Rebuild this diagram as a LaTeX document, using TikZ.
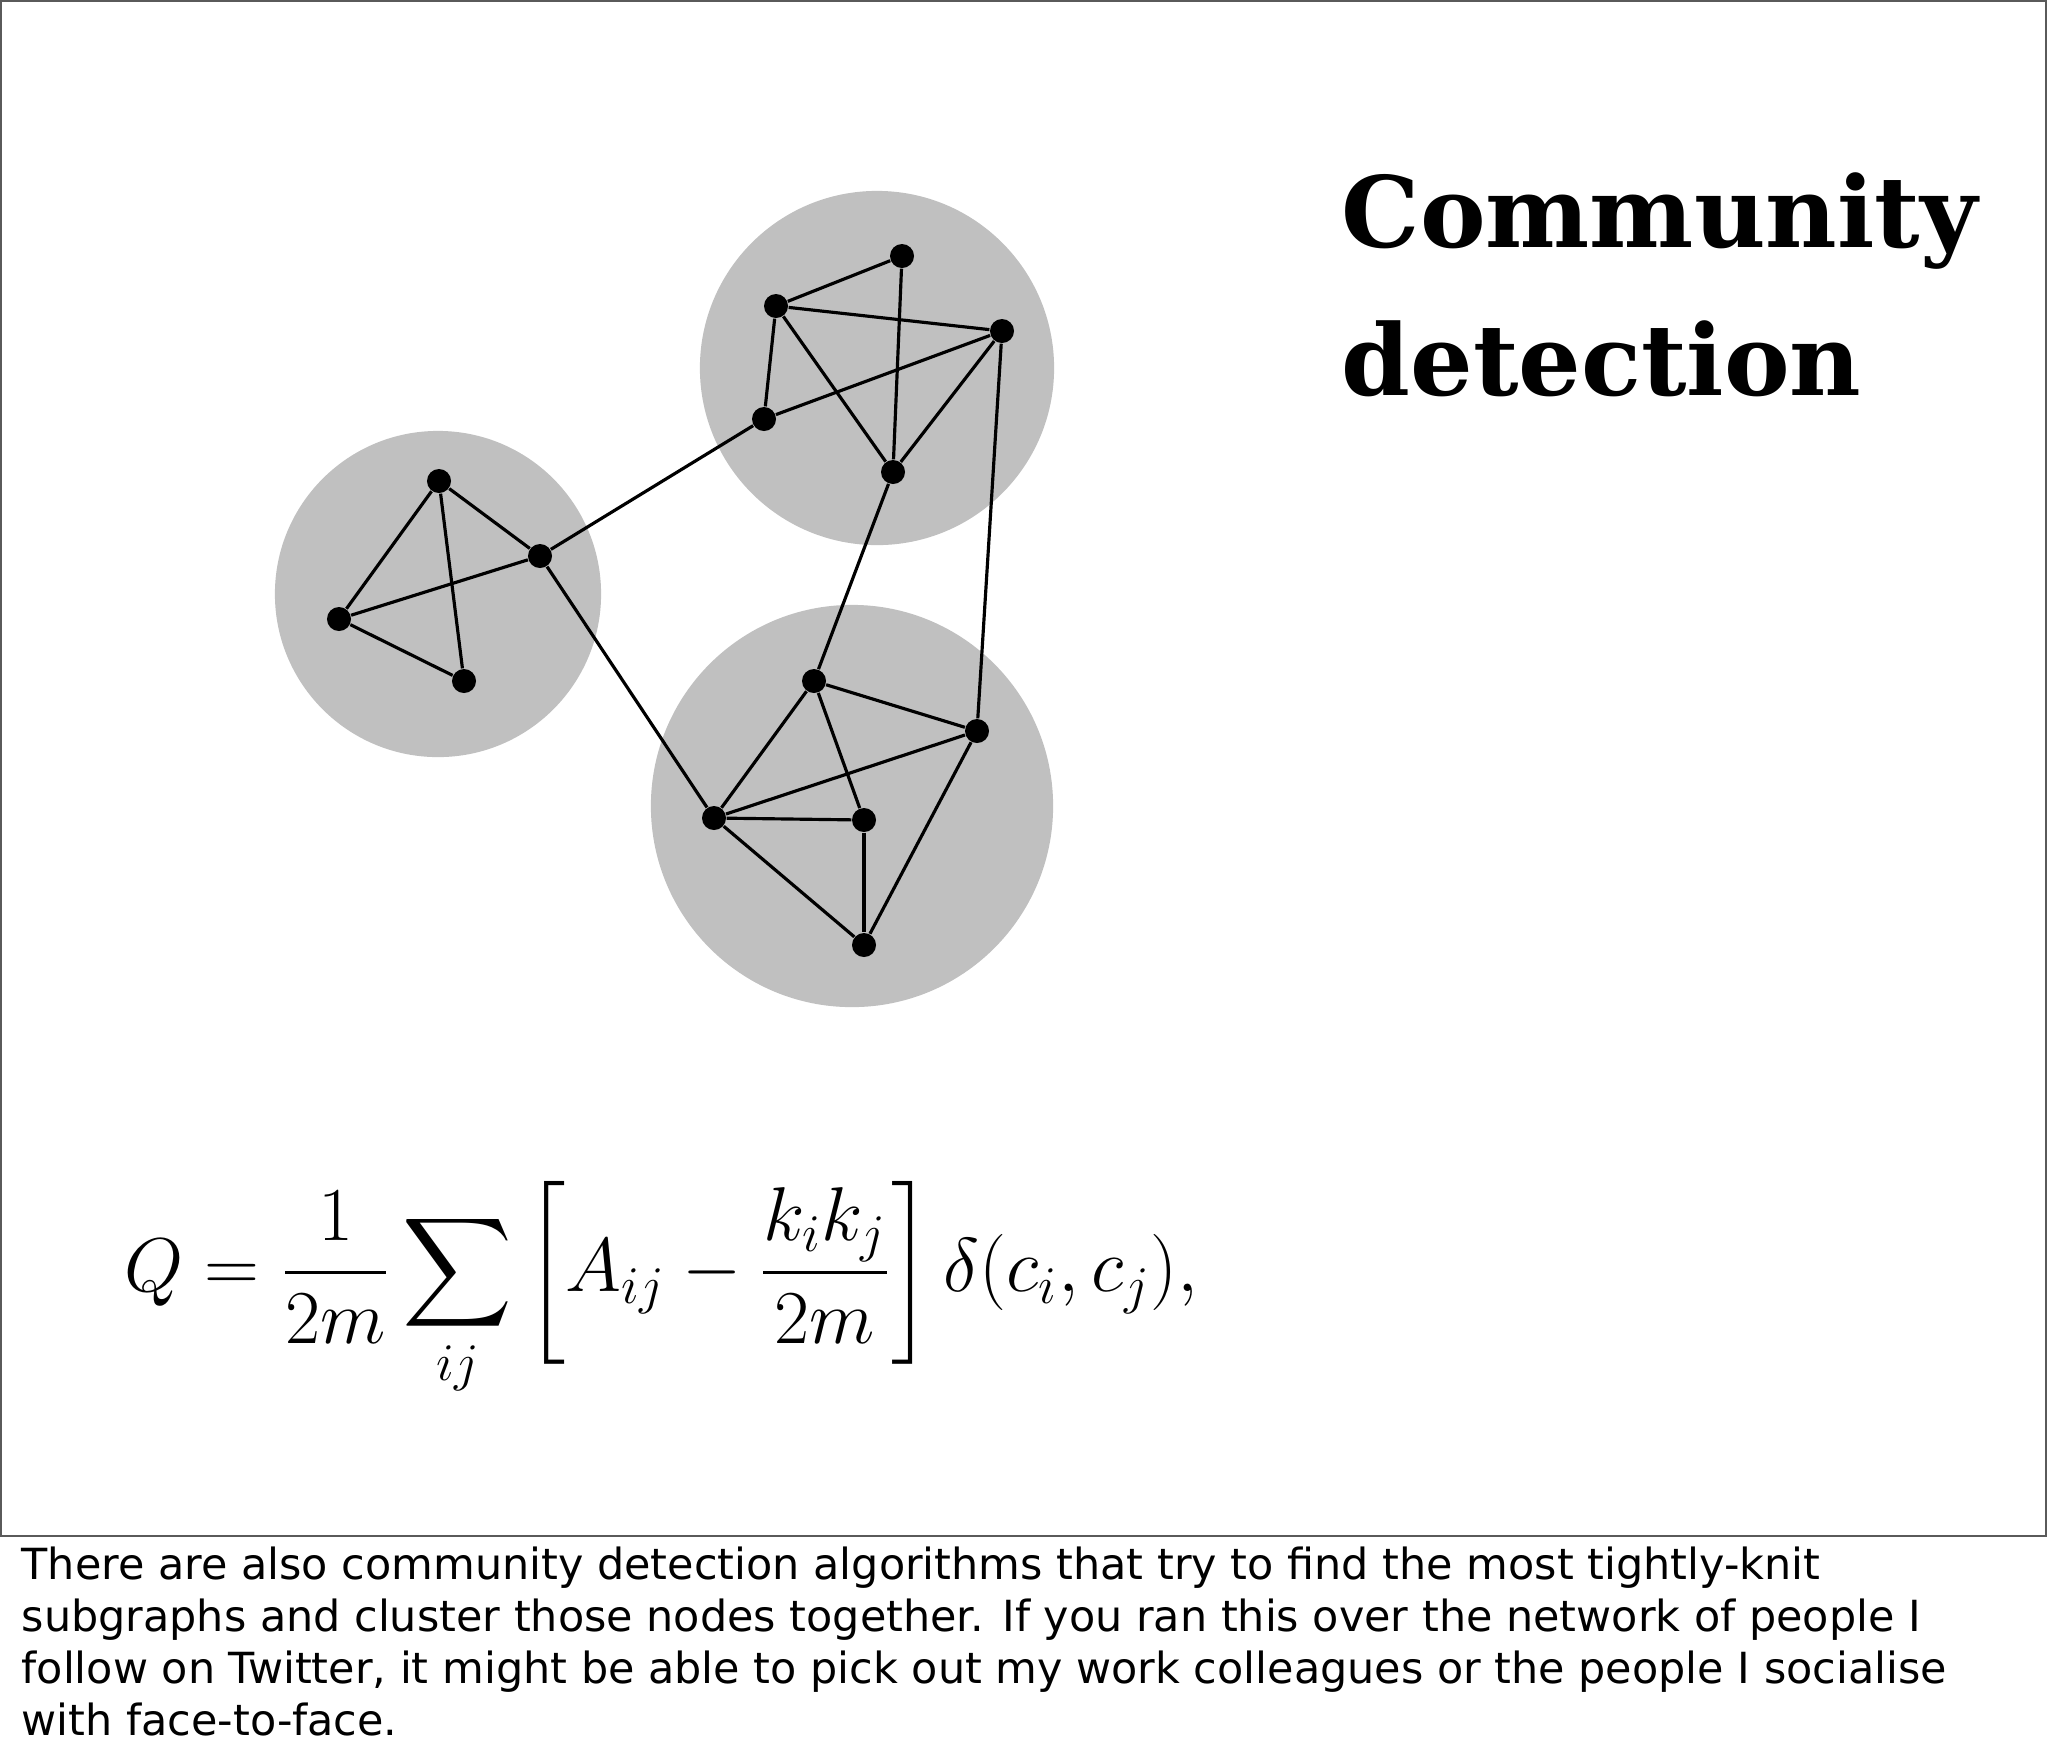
\documentclass[tikz,border=0pt]{standalone}
\usepackage[no-math]{fontspec}
\usepackage{amsmath}
\usetikzlibrary{positioning}
\newfontfamily\titlefont{DejaVu Serif}
\newfontfamily\notefont{DejaVu Sans}
\definecolor{grpGray}{HTML}{C0C0C0}
\definecolor{frameGray}{HTML}{5A5A5A}

\begin{document}
\begin{tikzpicture}[
  x=0.01cm,y=-0.01cm,
  grp/.style={circle, fill=grpGray, inner sep=0pt},
  dot/.style={circle, fill=black, minimum size=0.24cm, inner sep=0pt},
  edge/.style={draw=black, line width=0.9pt},
  ttl/.style={font=\titlefont\bfseries\fontsize{28}{34}\selectfont, inner sep=0pt},
  eqn/.style={font=\fontsize{20.74}{26}\selectfont, inner sep=0pt},
  note/.style={font=\notefont\fontsize{12.2}{14.8}\selectfont, align=left,
    inner sep=0pt}
]
\useasboundingbox (0,0) rectangle (2048,1744);
\fill[white] (0,0) rectangle (2048,1744);
\draw[frameGray, line width=0.8pt] (1,1) rectangle (2046,1536);

% communities
\node[grp, minimum size=3.26cm] (gleft) at (438,594) {};
\node[grp, minimum size=3.54cm] (gtop) at (877,368) {};
\node[grp, minimum size=4.02cm] (gbot) at (852,806) {};

% left group
\node[dot] (l1) at (439,481) {};
\node[dot] (l2) at (540,556) {};
\node[dot] (l3) at (339,619) {};
\node[dot] (l4) at (464,681) {};
% top group
\node[dot] (t1) at (902,256) {};
\node[dot] (t2) at (776,306) {};
\node[dot] (t3) at (1002,331) {};
\node[dot] (t4) at (764,419) {};
\node[dot] (t5) at (893,472) {};
% bottom group
\node[dot] (b1) at (814,681) {};
\node[dot] (b2) at (977,731) {};
\node[dot] (b3) at (714,818) {};
\node[dot] (b4) at (864,820) {};
\node[dot] (b5) at (864,945) {};

\foreach \a/\b in {l1/l3,l1/l2,l1/l4,l3/l2,l3/l4,
  t2/t1,t2/t3,t2/t4,t2/t5,t1/t5,t4/t3,t3/t5,
  b1/b2,b1/b3,b1/b4,b3/b2,b3/b4,b3/b5,b4/b5,b2/b5,
  l2/t4,l2/b3,t5/b1,t3/b2}
  \draw[edge] (\a) -- (\b);

% title
\node[ttl, anchor=base west] (ttl1) at (1341,247) {Community};
\node[ttl, anchor=base west] (ttl2) at ([yshift=-1.48cm]ttl1.base west) {detection};

% modularity
\node[eqn, anchor=west] (modq) at (124,1290)
  {\scalebox{1.045}{$\displaystyle Q=\frac{1}{2m}\sum_{ij}\left[A_{ij}-\frac{k_ik_j}{2m}\right]\delta(c_i,c_j),$}};

% speaker note
\node[note, anchor=north west] (notes) at (21,1546)
  {There are also community detection algorithms that try to find the most tightly-knit\\
   subgraphs and cluster those nodes together. If you ran this over the network of people I\\
   follow on Twitter, it might be able to pick out my work colleagues or the people I socialise\\
   with face-to-face.};
\end{tikzpicture}
\end{document}
